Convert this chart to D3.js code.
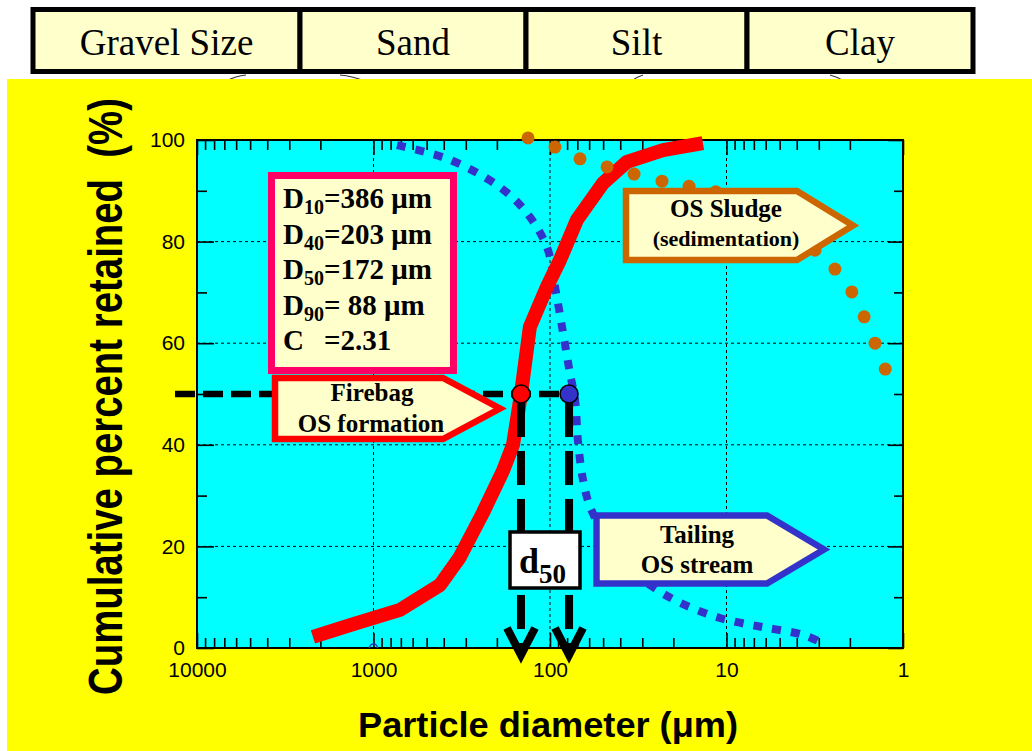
<!DOCTYPE html>
<html>
<head>
<meta charset="utf-8">
<script src="https://cdn.jsdelivr.net/npm/d3@7"></script>
<style>
  html, body { margin: 0; padding: 0; background: #ffffff; }
  svg { display: block; }
  text { white-space: pre; }
</style>
</head>
<body>
<svg id="chart" width="1032" height="751"></svg>
<script>
// ---- data ----------------------------------------------------------------
// particle-size classes in the header band
const fractions = ["Gravel Size", "Sand", "Silt", "Clay"];

// axis ticks
const xTickValues = [10000, 1000, 100, 10, 1];
const xTickLabels = ["10000", "1000", "100", "10", "1"];
const yTickValues = [0, 20, 40, 60, 80, 100];
const yMinorValues = [10, 30, 50, 70, 90];

// Firebag oil-sand formation (diameter in µm, cumulative % retained)
const firebagSize     = [2203, 1358, 708, 420, 324, 240, 184, 162, 146, 130, 104, 87.7, 70.3, 50.1, 36.6, 22.9, 13.6];
const firebagRetained = [2.2, 4.5, 7.5, 12.4, 17.9, 26.6, 35.0, 40.0, 50.0, 63.2, 71.1, 76.4, 84.3, 91.5, 95.7, 98.0, 99.4];

// tailing oil-sand stream
const tailingSize     = [736, 369, 192, 135, 104, 93.7, 84.3, 77.1, 72.1, 69.3, 65.0, 59.3, 48.8, 37.6, 26.1, 18.3, 10.9, 6.2, 3.69, 2.95];
const tailingRetained = [99.0, 96.1, 90.7, 85.6, 78.9, 71.1, 62.0, 54.1, 48.8, 40.4, 33.1, 27.8, 22.2, 16.3, 12.0, 8.9, 5.9, 4.1, 2.6, 1.2];

// oil-sand sludge (sedimentation)
const sludgeSize     = [133.2, 93.7, 67.6, 47.5, 33.4, 23.2, 16.3, 11.5, 8.17, 5.9, 4.37, 3.15, 2.43, 1.95, 1.66, 1.44, 1.26];
const sludgeRetained = [100.4, 98.6, 96.3, 94.7, 93.3, 91.9, 90.9, 89.8, 88.4, 86.4, 83.5, 78.3, 74.6, 70.1, 65.2, 60.0, 54.9];

// median diameters read at 50 % retained (Firebag, Tailing)
const d50Size = [146, 78];
const d50Percent = 50;
const d50Colors = ["#ff0000", "#3333cc"];

// grading statistics: symbol, subscript, value text
const statSymbols = ["D", "D", "D", "D", "C"];
const statSubs    = ["10", "40", "50", "90", ""];
const statValues  = ["=386 \u03bcm", "=203 \u03bcm", "=172 \u03bcm", "= 88 \u03bcm", "=2.31"];

// ---- setup ---------------------------------------------------------------
const svg = d3.select("#chart");
const SANS = "'Liberation Sans', Arial, Helvetica, sans-serif";
const SERIF = "'Liberation Serif', 'Times New Roman', Times, serif";
const CREAM = "#ffffcc";

const plot = { left: 197, right: 903, top: 140, bottom: 648 };
const x = d3.scaleLog().domain([10000, 1]).range([plot.left, plot.right]);
const y = d3.scaleLinear().domain([0, 100]).range([plot.bottom, plot.top]);

// ---- header band -----------------------------------------------------------
const cellEdges = [33, 300, 526, 747, 973];
const header = svg.append("g");

// little brace tips peeking out below the header cells
const braceTips = [
  "M226,81 Q236,76 246,75",
  "M340,75 Q352,76 368,82",
  "M630,82 Q636,77 643,75",
  "M830,75 Q838,77 846,82"
];
header.selectAll("path.tip").data(braceTips).join("path")
  .attr("d", d => d).attr("fill", "none")
  .attr("stroke", "#333").attr("stroke-width", 1.2);

header.selectAll("rect.cell").data(fractions).join("rect")
  .attr("x", (d, i) => cellEdges[i])
  .attr("y", 9.5)
  .attr("width", (d, i) => cellEdges[i + 1] - cellEdges[i])
  .attr("height", 62)
  .attr("fill", CREAM).attr("stroke", "#000").attr("stroke-width", 5);

header.selectAll("text.cell").data(fractions).join("text")
  .attr("x", (d, i) => (cellEdges[i] + cellEdges[i + 1]) / 2)
  .attr("y", 55)
  .attr("text-anchor", "middle")
  .attr("font-family", SERIF).attr("font-size", 37)
  .text(d => d);

// ---- yellow panel and plotting area ----------------------------------------
svg.append("rect").attr("x", 7).attr("y", 79).attr("width", 1025).attr("height", 672)
  .attr("fill", "#ffff00");

svg.append("rect")
  .attr("x", plot.left).attr("y", plot.top)
  .attr("width", plot.right - plot.left).attr("height", plot.bottom - plot.top)
  .attr("fill", "#00ffff");

svg.append("defs").append("clipPath").attr("id", "plotClip")
  .append("rect")
  .attr("x", plot.left).attr("y", plot.top)
  .attr("width", plot.right - plot.left).attr("height", plot.bottom - plot.top);

// grid
const grid = svg.append("g").attr("stroke", "#000").attr("stroke-width", 1)
  .attr("stroke-dasharray", "3,3");
grid.selectAll("line.h").data(yTickValues.filter(v => v > 0 && v < 100)).join("line")
  .attr("x1", plot.left).attr("x2", plot.right)
  .attr("y1", d => y(d)).attr("y2", d => y(d));
grid.selectAll("line.v").data(xTickValues.filter(v => v > 1 && v < 10000)).join("line")
  .attr("y1", plot.top).attr("y2", plot.bottom)
  .attr("x1", d => x(d)).attr("x2", d => x(d));

// axes
const xMinor = [];
[1, 10, 100, 1000].forEach(dec => { for (let k = 2; k <= 9; k++) xMinor.push(k * dec); });

function styleAxis(g) {
  g.select(".domain").remove();
  g.selectAll(".tick line").attr("stroke", "#000").attr("stroke-width", 1.6);
  g.selectAll(".tick text").attr("font-family", SANS).attr("font-size", 21).attr("fill", "#000");
}

svg.append("g").attr("transform", `translate(0,${plot.bottom})`)
  .call(d3.axisBottom(x).tickValues(xTickValues)
    .tickFormat((d, i) => xTickLabels[i]).tickSize(-15).tickPadding(14))
  .call(styleAxis);
svg.append("g").attr("transform", `translate(0,${plot.bottom})`)
  .call(d3.axisBottom(x).tickValues(xMinor).tickFormat("").tickSize(-10))
  .call(styleAxis);
svg.append("g").attr("transform", `translate(0,${plot.top})`)
  .call(d3.axisTop(x).tickValues(xTickValues).tickFormat("").tickSize(-15))
  .call(styleAxis);
svg.append("g").attr("transform", `translate(0,${plot.top})`)
  .call(d3.axisTop(x).tickValues(xMinor).tickFormat("").tickSize(-10))
  .call(styleAxis);

svg.append("g").attr("transform", `translate(${plot.left},0)`)
  .call(d3.axisLeft(y).tickValues(yTickValues).tickSize(-17).tickPadding(12))
  .call(styleAxis);
svg.append("g").attr("transform", `translate(${plot.left},0)`)
  .call(d3.axisLeft(y).tickValues(yMinorValues).tickFormat("").tickSize(-10))
  .call(styleAxis);
svg.append("g").attr("transform", `translate(${plot.right},0)`)
  .call(d3.axisRight(y).tickValues(yTickValues).tickFormat("").tickSize(-15))
  .call(styleAxis);
svg.append("g").attr("transform", `translate(${plot.right},0)`)
  .call(d3.axisRight(y).tickValues(yMinorValues).tickFormat("").tickSize(-9))
  .call(styleAxis);

// plot frame
svg.append("rect")
  .attr("x", plot.left).attr("y", plot.top)
  .attr("width", plot.right - plot.left).attr("height", plot.bottom - plot.top)
  .attr("fill", "none").attr("stroke", "#000").attr("stroke-width", 2);

// stray open marker sitting on the baseline at 1000 µm
svg.append("circle").attr("clip-path", "url(#plotClip)")
  .attr("cx", x(1000)).attr("cy", y(0)).attr("r", 4)
  .attr("fill", "none").attr("stroke", "#3333cc").attr("stroke-width", 1.5);

// ---- distribution curves ---------------------------------------------------
const firebag = firebagSize.map((d, i) => [d, firebagRetained[i]]);
const tailing = tailingSize.map((d, i) => [d, tailingRetained[i]]);
const sludge  = sludgeSize.map((d, i) => [d, sludgeRetained[i]]);

svg.append("path")
  .attr("d", d3.line().x(d => x(d[0])).y(d => y(d[1])).curve(d3.curveCatmullRom.alpha(0.5))(tailing))
  .attr("fill", "none").attr("stroke", "#3333cc").attr("stroke-width", 8)
  .attr("stroke-dasharray", "9,10");

svg.append("path")
  .attr("d", d3.line().x(d => x(d[0])).y(d => y(d[1])).curve(d3.curveLinear)(firebag))
  .attr("fill", "none").attr("stroke", "#ff0000").attr("stroke-width", 14)
  .attr("stroke-linejoin", "round");

svg.append("g").selectAll("circle").data(sludge).join("circle")
  .attr("cx", d => x(d[0])).attr("cy", d => y(d[1])).attr("r", 6.5)
  .attr("fill", "#cc6600");

// ---- d50 guide lines --------------------------------------------------------
const guides = svg.append("g").attr("stroke", "#000").attr("fill", "none");
guides.append("line")
  .attr("x1", 175).attr("x2", x(d3.min(d50Size)))
  .attr("y1", y(d50Percent)).attr("y2", y(d50Percent))
  .attr("stroke-width", 6.5).attr("stroke-dasharray", "20,8");
guides.selectAll("line.v").data(d50Size).join("line")
  .attr("x1", d => x(d)).attr("x2", d => x(d))
  .attr("y1", y(d50Percent) + 9).attr("y2", 652)
  .attr("stroke-width", 8).attr("stroke-dasharray", "34,14");
guides.selectAll("path.head").data(d50Size).join("path")
  .attr("d", d => `M${x(d) - 14},628 L${x(d)},655 L${x(d) + 14},628`)
  .attr("stroke-width", 8).attr("stroke-linejoin", "miter");

svg.append("g").selectAll("circle").data(d50Size).join("circle")
  .attr("cx", d => x(d)).attr("cy", y(d50Percent)).attr("r", 9)
  .attr("fill", (d, i) => d50Colors[i]).attr("stroke", "#000").attr("stroke-width", 1.5);

// ---- annotation boxes -------------------------------------------------------
// grading statistics box
svg.append("rect").attr("x", 271.5).attr("y", 175.5).attr("width", 182).attr("height", 195)
  .attr("fill", CREAM).attr("stroke", "#ff0066").attr("stroke-width", 7);

const statRows = svg.append("g").attr("font-family", SERIF).attr("font-weight", "bold")
  .attr("font-size", 29).attr("fill", "#000");
const rowY = [208, 243.5, 279, 314.5, 350];
let eqX = null;
statSymbols.forEach((sym, i) => {
  const t = statRows.append("text").attr("x", 283).attr("y", rowY[i]);
  t.append("tspan").text(sym);
  if (statSubs[i]) {
    t.append("tspan").attr("font-size", 20).attr("dy", 6).text(statSubs[i]);
    t.append("tspan").attr("dy", -6).text(statValues[i]);
    if (eqX === null) eqX = 283 + t.node().getSubStringLength(0, sym.length + statSubs[i].length);
  } else {
    t.append("tspan").attr("x", eqX).text(statValues[i]);
  }
});

// pentagon call-outs
function callout(pts, color, lines) {
  const g = svg.append("g");
  g.append("path").attr("d", d3.line()(pts) + "Z")
    .attr("fill", CREAM).attr("stroke", color).attr("stroke-width", 6.5)
    .attr("stroke-linejoin", "miter");
  g.selectAll("text").data(lines).join("text")
    .attr("x", d => d.x).attr("y", d => d.y)
    .attr("text-anchor", "middle")
    .attr("font-family", SERIF).attr("font-weight", "bold")
    .attr("font-size", d => d.size).text(d => d.text);
}

callout([[275, 378], [443, 378], [500, 408.5], [443, 439], [275, 439]], "#ff0000", [
  { text: "Firebag", x: 372, y: 401, size: 25 },
  { text: "OS formation", x: 371, y: 432, size: 25 }
]);
callout([[626, 191], [797, 191], [853, 225.5], [797, 260], [626, 260]], "#cc6600", [
  { text: "OS Sludge", x: 726, y: 217, size: 25 },
  { text: "(sedimentation)", x: 726, y: 246, size: 22 }
]);
callout([[596.5, 515.5], [767, 515.5], [824, 549.5], [767, 583.5], [596.5, 583.5]], "#3333cc", [
  { text: "Tailing", x: 697, y: 543, size: 25 },
  { text: "OS stream", x: 697, y: 573, size: 25 }
]);

// d50 label box
svg.append("rect").attr("x", 510).attr("y", 532).attr("width", 70).attr("height", 56)
  .attr("fill", "#ffffff").attr("stroke", "#000").attr("stroke-width", 3.5);
const d50Text = svg.append("text").attr("x", 519).attr("y", 573)
  .attr("font-family", SERIF).attr("font-weight", "bold").attr("font-size", 36);
d50Text.append("tspan").text("d");
d50Text.append("tspan").attr("font-size", 27).attr("dy", 10).text("50");

// ---- axis titles ------------------------------------------------------------
svg.append("text")
  .attr("transform", "translate(548,737)")
  .attr("text-anchor", "middle")
  .attr("font-family", SANS).attr("font-weight", "bold").attr("font-size", 35)
  .attr("textLength", 380).attr("lengthAdjust", "spacingAndGlyphs")
  .text("Particle diameter (\u03bcm)");

svg.append("text")
  .attr("transform", "translate(122,396.5) rotate(-90) scale(1,1.25)")
  .attr("text-anchor", "middle")
  .attr("font-family", SANS).attr("font-weight", "bold").attr("font-size", 38)
  .attr("textLength", 597).attr("lengthAdjust", "spacingAndGlyphs")
  .text("Cumulative percent retained  (%)");
</script>
</body>
</html>
